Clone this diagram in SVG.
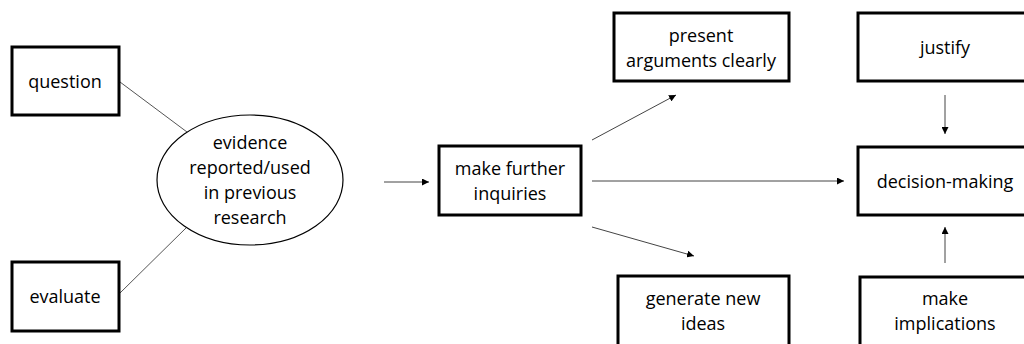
<svg xmlns="http://www.w3.org/2000/svg" width="1024" height="344" viewBox="0 0 1024 344">
  <defs>
    <marker id="arrow" viewBox="0 0 10 10" refX="10" refY="5" markerWidth="7" markerHeight="7" markerUnits="userSpaceOnUse" orient="auto">
      <path d="M0,0 L10,5 L0,10 z" fill="#000"/>
    </marker>
    <style>
      .box { fill: #fff; stroke: #000; stroke-width: 3; }
      .oval { fill: #fff; stroke: #000; stroke-width: 1.2; }
      .lbl { font-family: "Open Sans", "Liberation Sans", sans-serif; font-size: 18px; fill: #000; text-anchor: middle; dominant-baseline: central; }
      .link { stroke: #555; stroke-width: 1; fill: none; }
      .arr { stroke: #444; stroke-width: 1; fill: none; marker-end: url(#arrow); }
    </style>
  </defs>
  <rect width="1024" height="344" fill="#fff"/>

  <g id="connectors">
    <line class="link" x1="120" y1="82" x2="187" y2="132"/>
    <line class="link" x1="120" y1="293" x2="187" y2="227"/>
    <line class="arr" x1="384" y1="182" x2="429" y2="182"/>
    <line class="arr" x1="592" y1="140" x2="676" y2="95"/>
    <line class="arr" x1="592" y1="181" x2="844" y2="181"/>
    <line class="arr" x1="592" y1="227" x2="694" y2="256"/>
    <line class="arr" x1="945" y1="95" x2="945" y2="134"/>
    <line class="arr" x1="945" y1="263" x2="945" y2="227"/>
  </g>

  <g id="question">
    <rect class="box" x="12" y="47" width="107" height="68"/>
    <text class="lbl" x="65" y="81">question</text>
  </g>
  <g id="evaluate">
    <rect class="box" x="12" y="262" width="107" height="69"/>
    <text class="lbl" x="65" y="296">evaluate</text>
  </g>
  <g id="evidence">
    <ellipse class="oval" cx="250" cy="180" rx="93" ry="65"/>
    <text class="lbl" x="250" y="142">evidence</text>
    <text class="lbl" x="250" y="167">reported/used</text>
    <text class="lbl" x="250" y="192">in previous</text>
    <text class="lbl" x="250" y="217">research</text>
  </g>
  <g id="inquiries">
    <rect class="box" x="439" y="146" width="142" height="69"/>
    <text class="lbl" x="510" y="168">make further</text>
    <text class="lbl" x="510" y="193">inquiries</text>
  </g>
  <g id="present">
    <rect class="box" x="614" y="13" width="175" height="68"/>
    <text class="lbl" x="701" y="35">present</text>
    <text class="lbl" x="701" y="60">arguments clearly</text>
  </g>
  <g id="generate">
    <rect class="box" x="618" y="276" width="171" height="80"/>
    <text class="lbl" x="703" y="298">generate new</text>
    <text class="lbl" x="703" y="323">ideas</text>
  </g>
  <g id="justify">
    <rect class="box" x="858" y="13" width="180" height="68"/>
    <text class="lbl" x="945" y="47">justify</text>
  </g>
  <g id="decision">
    <rect class="box" x="858" y="147" width="180" height="68"/>
    <text class="lbl" x="945" y="181">decision-making</text>
  </g>
  <g id="implications">
    <rect class="box" x="860" y="277" width="178" height="80"/>
    <text class="lbl" x="945" y="298">make</text>
    <text class="lbl" x="945" y="323">implications</text>
  </g>
</svg>
